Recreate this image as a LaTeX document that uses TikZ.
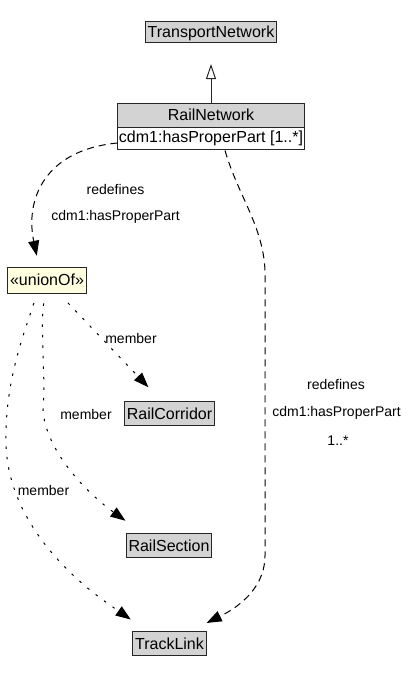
\documentclass[tikz,border=0pt]{standalone}
\usepackage{fontspec}
\setmainfont{Liberation Sans}
\usepackage{tikz}
\usetikzlibrary{arrows.meta,shapes.multipart}
\definecolor{clsgray}{HTML}{D3D3D3}
\definecolor{unionyellow}{HTML}{FFFFE0}
\tikzset{
  clsbase/.style={draw=black!85, line width=1pt, inner xsep=2.5pt, text height=14pt, text depth=3pt, font=\fontsize{16}{19}\selectfont},
  cls/.style={clsbase, fill=clsgray, inner ysep=2pt, minimum height=24pt},
  lbl/.style={inner sep=0pt, font=\fontsize{14}{17}\selectfont},
  dep/.style={line width=1pt, dash pattern=on 7pt off 5pt, -{Triangle[length=15pt,width=11pt]}},
  member/.style={line width=1pt, dash pattern=on 2.5pt off 8pt, -{Triangle[length=15pt,width=11pt]}},
  gen/.style={line width=1pt, draw=black!85, -{Triangle[open,length=15pt,width=10pt,fill=white]}}
}
\begin{document}
\begin{tikzpicture}[x=1pt,y=-1pt]
    \useasboundingbox (0,0) rectangle (414,694);
    \node[cls, minimum height=20pt] (transport) at (211,32) {TransportNetwork};
    \node[clsbase, rectangle split, rectangle split parts=2, rectangle split part fill={clsgray,white}, inner xsep=1pt, inner ysep=3.25pt] (rail) at (211,126.5) {RailNetwork \nodepart{two} cdm1:hasProperPart [1..*]};
    \node[cls, fill=unionyellow, minimum height=26pt] (union) at (47,280) {«unionOf»};
    \node[cls] (corridor) at (169.5,413.5) {RailCorridor};
    \node[cls] (section) at (169,545.5) {RailSection};
    \node[cls] (track) at (169.5,643.5) {TrackLink};
    \draw[gen, shorten >=21pt] (rail) -- (transport);
    \draw[dep, shorten >=11pt] (rail.190) .. controls +(-73,7) and +(-14,-67) .. ([xshift=-8pt]union.north);
    \draw[dep, shorten >=18pt] ([xshift=14pt]rail.south) .. controls +(13,45) and +(-2,-45) .. ++(40,120) -- ++(0,285) .. controls +(0,40) and +(34,-17) .. ([xshift=21pt]track.north);
    \begin{scope}
        \clip (255,370) rectangle (275,463);
        \draw[dep, black!40, shorten >=18pt] ([xshift=14pt]rail.south) .. controls +(13,45) and +(-2,-45) .. ++(40,120) -- ++(0,285) .. controls +(0,40) and +(34,-17) .. ([xshift=21pt]track.north);
    \end{scope}
    \draw[member, shorten <=13pt, shorten >=19pt] ([xshift=12pt]union.south) -- ([xshift=-8pt]corridor.north);
    \draw[member, shorten <=10pt, shorten >=21pt] ([xshift=-2pt]union.south) .. controls +(-5,37) and +(3,-30) .. ++(-2,117) .. controls +(3,40) and +(-57,-41) .. ([xshift=17pt]section.north west);
    \draw[member, shorten <=10pt, shorten >=20pt] ([xshift=-10pt]union.south) .. controls +(-12,37) and +(-1,-60) .. ++(-31,147) .. controls +(0,100) and +(-37,-26) .. ([xshift=15pt]track.north west);
    \node[lbl] (redefA) at (115.5,189) {redefines};
    \node[lbl] (propA) at (115.5,217) {cdm1:hasProperPart};
    \node[lbl] (redefB) at (336,384) {redefines};
    \node[lbl] (propB) at (336.5,413) {cdm1:hasProperPart};
    \node[lbl] (multB) at (338,441) {1..*};
    \node[lbl] (memberC) at (131,338) {member};
    \node[lbl] (memberD) at (86,414) {member};
    \node[lbl] (memberE) at (43.5,490) {member};
\end{tikzpicture}
\end{document}
